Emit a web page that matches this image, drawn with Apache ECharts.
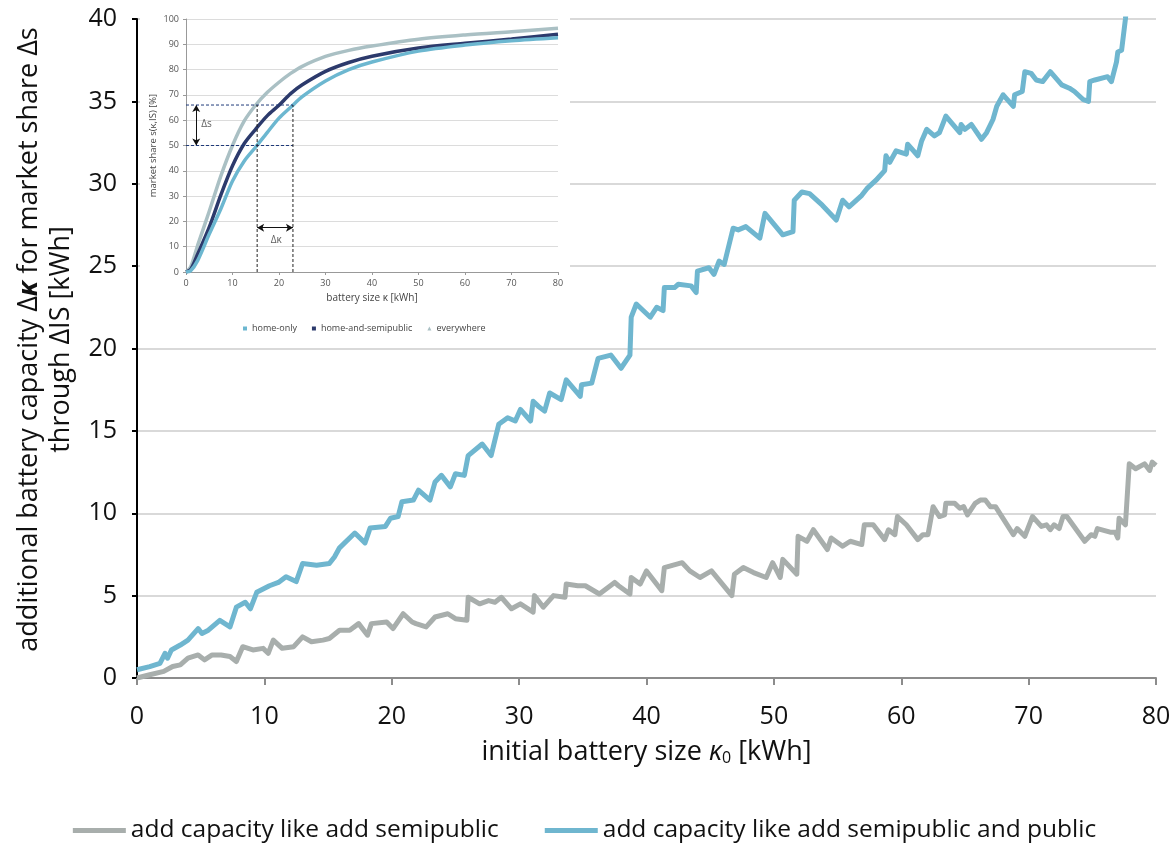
<!DOCTYPE html>
<html><head><meta charset="utf-8">
<script src="https://cdn.jsdelivr.net/npm/echarts@6/dist/echarts.min.js"></script>
<style>html,body{margin:0;padding:0;background:#fff}#c{width:1169px;height:843px}</style>
</head><body><div id="c"></div>
<script>
// ---- main chart data: [initial battery size, additional capacity] ----
const semipublic = [[0,0],[1.0,0.2],[2.1,0.4],[2.8,0.7],[3.4,0.8],[4.0,1.2],[4.8,1.4],[5.3,1.1],[5.9,1.4],[6.6,1.4],[7.3,1.3],[7.8,1.0],[8.3,1.9],[9.1,1.7],[9.9,1.8],[10.3,1.5],[10.7,2.3],[11.4,1.8],[12.3,1.9],[13.0,2.5],[13.7,2.2],[14.6,2.3],[15.1,2.4],[15.9,2.9],[16.7,2.9],[17.4,3.3],[18.1,2.6],[18.4,3.3],[19.6,3.4],[20.1,3.0],[20.9,3.9],[21.6,3.4],[21.9,3.3],[22.7,3.1],[23.4,3.7],[24.4,3.9],[25.0,3.6],[25.9,3.5],[26.0,4.9],[26.9,4.5],[27.6,4.7],[28.1,4.6],[28.6,4.9],[29.4,4.2],[30.1,4.5],[31.1,4.0],[31.2,5.0],[31.9,4.3],[32.7,5.0],[33.6,4.9],[33.7,5.7],[34.6,5.6],[35.2,5.6],[36.3,5.1],[37.5,5.8],[37.8,5.6],[38.7,5.1],[38.8,6.1],[39.5,5.7],[40.0,6.5],[41.2,5.3],[41.4,6.7],[42.8,7.0],[43.4,6.5],[44.2,6.1],[45.1,6.5],[46.7,5.0],[46.9,6.3],[47.6,6.7],[48.4,6.4],[49.4,6.1],[49.9,7.0],[50.5,6.1],[50.7,7.2],[51.8,6.3],[51.9,8.6],[52.6,8.3],[53.1,9.0],[54.2,7.8],[54.5,8.5],[55.4,8.0],[56.0,8.3],[56.9,8.1],[57.1,9.3],[57.8,9.3],[58.7,8.4],[59.0,9.0],[59.5,8.7],[59.7,9.8],[60.4,9.3],[61.3,8.4],[61.7,8.7],[62.1,8.7],[62.5,10.4],[63.0,9.8],[63.4,9.9],[63.5,10.6],[64.2,10.6],[64.6,10.3],[64.9,10.4],[65.2,9.9],[65.8,10.6],[66.2,10.8],[66.6,10.8],[67.0,10.4],[67.4,10.4],[68.8,8.7],[69.1,9.07],[69.7,8.6],[70.3,9.8],[71.0,9.2],[71.4,9.3],[71.7,9.0],[72.0,9.3],[72.4,9.07],[72.7,9.8],[73.0,9.8],[74.4,8.3],[74.9,8.7],[75.2,8.6],[75.4,9.07],[76.4,8.85],[76.8,8.85],[77.0,8.5],[77.1,9.7],[77.6,9.3],[77.9,13.0],[78.4,12.7],[79.1,13.0],[79.5,12.6],[79.7,13.1],[80,12.9]];
const semipublicPublic = [[0,0.5],[1.0,0.69],[1.8,0.89],[2.2,1.5],[2.4,1.2],[2.7,1.7],[3.4,2.0],[4.0,2.3],[4.8,3.0],[5.1,2.7],[5.6,2.9],[6.5,3.5],[7.3,3.1],[7.8,4.3],[8.5,4.6],[8.9,4.2],[9.4,5.2],[10.4,5.6],[11.1,5.8],[11.7,6.15],[12.5,5.85],[13.0,6.95],[14.1,6.85],[15.1,6.95],[15.5,7.35],[15.9,7.9],[17.1,8.8],[17.9,8.2],[18.3,9.1],[19.5,9.2],[19.9,9.7],[20.5,9.8],[20.8,10.7],[21.7,10.8],[22.1,11.4],[23.0,10.8],[23.4,11.9],[23.9,12.3],[24.6,11.6],[25.0,12.4],[25.7,12.3],[26.0,13.5],[27.1,14.2],[27.8,13.5],[28.4,15.4],[29.1,15.8],[29.7,15.6],[30.1,16.3],[30.9,15.6],[31.1,16.8],[31.5,16.5],[32.0,16.2],[32.4,17.3],[33.3,16.9],[33.7,18.1],[34.8,17.1],[34.9,17.8],[35.7,17.9],[36.2,19.4],[37.2,19.6],[38.0,18.8],[38.7,19.6],[38.8,21.9],[39.2,22.7],[40.3,21.9],[40.8,22.5],[41.3,22.3],[41.4,23.7],[42.2,23.7],[42.5,23.9],[43.5,23.8],[43.9,23.4],[44.0,24.7],[44.9,24.9],[45.3,24.5],[45.7,25.3],[46.1,25.1],[46.8,27.3],[47.2,27.2],[47.8,27.4],[48.9,26.7],[49.3,28.2],[50.7,26.9],[51.5,27.1],[51.6,29.0],[52.2,29.5],[52.8,29.4],[53.8,28.7],[54.9,27.8],[55.4,29.0],[55.9,28.6],[56.9,29.3],[57.3,29.7],[58.0,30.2],[58.7,30.8],[58.8,31.7],[59.1,31.3],[59.6,32.0],[60.4,31.8],[60.5,32.4],[61.3,31.7],[61.6,32.6],[62.0,33.3],[62.6,32.9],[63.0,33.1],[63.3,33.7],[63.5,34.1],[64.6,33.1],[64.7,33.6],[65.0,33.3],[65.5,33.6],[66.3,32.7],[66.7,33.1],[67.2,33.9],[67.5,34.7],[68.0,35.4],[68.8,34.7],[68.9,35.4],[69.5,35.6],[69.7,36.8],[70.2,36.7],[70.6,36.3],[71.1,36.2],[71.7,36.8],[72.6,36.0],[73.2,35.8],[73.6,35.6],[74.3,35.1],[74.7,35.0],[74.8,36.2],[75.2,36.3],[76.2,36.5],[76.5,36.2],[76.9,37.4],[77.0,38.0],[77.3,38.1],[77.6,40.0],[77.8,42.0]];
const mainNames = ['add capacity like add semipublic', 'add capacity like add semipublic and public'];

// ---- inset data: market share [%] vs battery size [kWh] ----
const insetKappa = [0,1,2.5,5,7.5,10,12.5,15,17.5,20,22.5,25,30,35,40,50,60,70,80];
const homeOnly = [0,0.5,4.5,15,25,36,43.8,49.4,55.2,60.8,65.1,69.3,75.5,80,83,87.3,89.7,91.4,92.6];
const homeSemipublic = [0,1,7,17.7,30.5,42,50.7,56.5,61.8,65.9,70.5,74,79.3,82.8,85.3,88.5,90.4,92.1,94];
const everywhere = [0,2,10.5,24,38,50,59.6,66,71,75,78.5,81.3,85.2,87.6,89.3,92,93.7,95,96.3];
const insetNames = ['home-only', 'home-and-semipublic', 'everywhere'];
const shareLevels = [50, 66];      // Δs band
const kappaMarks = [15.3, 23];     // Δκ band

const FONT = 'Open Sans';
const zip = (xs, ys) => xs.map((x, i) => [x, ys[i]]);

const chart = echarts.init(document.getElementById('c'), null, {renderer: 'canvas'});
const annotSeries = [];
shareLevels.forEach(s => annotSeries.push({
  type: 'line', xAxisIndex: 1, yAxisIndex: 1, z: 7, symbol: 'none', silent: true,
  data: [[0, s], [kappaMarks[1], s]],
  lineStyle: {color: '#1f3a7a', width: 1, type: [3, 2]}
}));
kappaMarks.forEach(k => annotSeries.push({
  type: 'line', xAxisIndex: 1, yAxisIndex: 1, z: 7, symbol: 'none', silent: true,
  data: [[k, 0], [k, shareLevels[1]]],
  lineStyle: {color: '#222', width: 1, type: [3, 2]}
}));
annotSeries.push({
  type: 'scatter', xAxisIndex: 1, yAxisIndex: 1, z: 8, symbolSize: 0, silent: true,
  data: [[4.4, 58.5, 'Δs'], [19.4, 12.5, 'Δκ']],
  label: {show: true, position: 'inside', formatter: p => p.value[2], fontFamily: FONT, fontSize: 10, color: '#333'},
  markLine: {
    silent: true, symbol: ['arrow', 'arrow'], symbolSize: [6, 7],
    lineStyle: {color: '#111', width: 1, type: 'solid'}, label: {show: false},
    data: [
      [{coord: [2.2, shareLevels[1]]}, {coord: [2.2, shareLevels[0]]}],
      [{coord: [kappaMarks[0], 17.5]}, {coord: [kappaMarks[1], 17.5]}]
    ]
  }
});

chart.setOption({
  animation: false,
  backgroundColor: '#fff',
  textStyle: {fontFamily: FONT},
  grid: [
    {left: 137, right: 13, top: 19, bottom: 165, outerBoundsMode: 'none', containLabel: false},
    {left: 186, right: 611, top: 19, bottom: 571, outerBoundsMode: 'none', containLabel: false}
  ],
  graphic: [{type: 'rect', z: 1, shape: {x: 140, y: 0, width: 430, height: 342}, style: {fill: '#fff'}}],
  legend: [
    {data: mainNames, left: 'center', top: 813, itemWidth: 53, itemHeight: 5, itemGap: 46, icon: 'rect',
     textStyle: {fontFamily: FONT, fontSize: 24.5, color: '#111'}},
    {data: [{name: insetNames[0], icon: 'rect'}, {name: insetNames[1], icon: 'rect'}, {name: insetNames[2], icon: 'triangle'}],
     left: 238, top: 319, itemWidth: 4, itemHeight: 4, itemGap: 15, z: 9,
     textStyle: {fontFamily: FONT, fontSize: 9, color: '#444'}}
  ],
  xAxis: [
    {type: 'value', gridIndex: 0, min: 0, max: 80, interval: 10,
     name: 'initial battery size {k|κ}{s|0} [kWh]', nameLocation: 'middle', nameGap: 60,
     nameTextStyle: {fontFamily: FONT, fontSize: 27, color: '#111',
       rich: {k: {fontFamily: FONT, fontSize: 27, fontStyle: 'italic', color: '#111'},
              s: {fontFamily: FONT, fontSize: 16, color: '#111', verticalAlign: 'bottom', padding: [12, 0, 0, 0]}}},
     axisLine: {lineStyle: {color: '#8c8c8c', width: 2}},
     axisTick: {show: true, length: 7, lineStyle: {color: '#8c8c8c', width: 2}},
     axisLabel: {fontFamily: FONT, fontSize: 25, color: '#111', margin: 26},
     splitLine: {show: false}},
    {type: 'value', gridIndex: 1, min: 0, max: 80, interval: 10, z: 5,
     name: 'battery size κ [kWh]', nameLocation: 'middle', nameGap: 21,
     nameTextStyle: {fontFamily: FONT, fontSize: 10, color: '#444'},
     axisLine: {lineStyle: {color: '#999', width: 1}},
     axisTick: {show: true, length: 3, lineStyle: {color: '#999'}},
     axisLabel: {fontFamily: FONT, fontSize: 9, color: '#555', margin: 7},
     splitLine: {show: false}}
  ],
  yAxis: [
    {type: 'value', gridIndex: 0, min: 0, max: 40, interval: 5,
     name: 'additional battery capacity Δ{k|κ} for market share Δs\nthrough ΔIS [kWh]',
     nameLocation: 'middle', nameGap: 57,
     nameTextStyle: {fontFamily: FONT, fontSize: 27, color: '#111', lineHeight: 32, padding: [0, 0, 0, 18],
       rich: {k: {fontFamily: FONT, fontSize: 27, fontStyle: 'italic', fontWeight: 'bold', color: '#111', lineHeight: 32}}},
     axisLine: {show: true, lineStyle: {color: '#000', width: 2}},
     axisTick: {show: true, length: 5, lineStyle: {color: '#000', width: 2}},
     axisLabel: {fontFamily: FONT, fontSize: 25, color: '#111', margin: 20},
     splitLine: {show: true, lineStyle: {color: '#d9d9d9', width: 2}}},
    {type: 'value', gridIndex: 1, min: 0, max: 100, interval: 10, z: 5,
     name: 'market share s(κ,IS) [%]', nameLocation: 'middle', nameGap: 28,
     nameTextStyle: {fontFamily: FONT, fontSize: 9.5, color: '#444'},
     axisLine: {show: true, lineStyle: {color: '#999', width: 1}},
     axisTick: {show: true, length: 3, lineStyle: {color: '#999'}},
     axisLabel: {fontFamily: FONT, fontSize: 9, color: '#555', margin: 7},
     splitLine: {show: true, lineStyle: {color: '#dcdcdc', width: 1}}}
  ],
  series: [
    {name: mainNames[0], type: 'line', xAxisIndex: 0, yAxisIndex: 0, data: semipublic, symbol: 'none', clip: true,
     color: '#a8aeac', lineStyle: {color: '#a8aeac', width: 5, join: 'round'}},
    {name: mainNames[1], type: 'line', xAxisIndex: 0, yAxisIndex: 0, data: semipublicPublic, symbol: 'none', clip: true,
     color: '#6fb6cf', lineStyle: {color: '#6fb6cf', width: 5, join: 'round'}},
    {name: insetNames[2], type: 'line', xAxisIndex: 1, yAxisIndex: 1, z: 6, data: zip(insetKappa, everywhere), symbol: 'none', smooth: 0.3,
     color: '#aac0c4', lineStyle: {color: '#aac0c4', width: 3.5}},
    {name: insetNames[1], type: 'line', xAxisIndex: 1, yAxisIndex: 1, z: 6, data: zip(insetKappa, homeSemipublic), symbol: 'none', smooth: 0.3,
     color: '#2c3a6c', lineStyle: {color: '#2c3a6c', width: 3.5}},
    {name: insetNames[0], type: 'line', xAxisIndex: 1, yAxisIndex: 1, z: 6, data: zip(insetKappa, homeOnly), symbol: 'none', smooth: 0.3,
     color: '#6cb7d0', lineStyle: {color: '#6cb7d0', width: 3.5}}
  ].concat(annotSeries)
});
</script></body></html>
